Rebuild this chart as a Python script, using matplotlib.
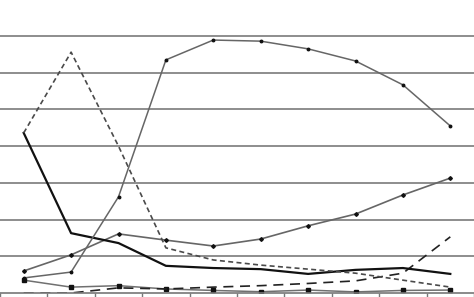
import numpy as np
import matplotlib
matplotlib.use("Agg")
import matplotlib.pyplot as plt

categories = list(range(10))

# values (grid step = 1)
gray_peak = [0.41, 0.57, 2.62, 6.35, 6.89, 6.86, 6.65, 6.32, 5.67, 4.55]
short_dash = [4.36, 6.56, 4.00, 1.23, 0.90, 0.76, 0.65, 0.54, 0.35, 0.16]
black_solid = [4.36, 1.63, 1.36, 0.74, 0.68, 0.65, 0.52, 0.63, 0.68, 0.52]
gray_rising = [0.60, 1.04, 1.61, 1.44, 1.28, 1.47, 1.83, 2.15, 2.67, 3.13]
long_dash = [0.00, 0.00, 0.14, 0.11, 0.16, 0.20, 0.26, 0.33, 0.54, 1.53]
gray_square = [0.35, 0.16, 0.20, 0.11, 0.07, 0.035, 0.08, 0.03, 0.07, 0.08]

fig = plt.figure(figsize=(4.74, 2.97), dpi=100)
ax = fig.add_axes([0, 4 / 297, 1, 293.7 / 297])

x = np.array(categories)

for yv in range(1, 8):
    ax.axhline(yv, color="#858585", lw=1.3, zorder=0)

ax.plot(x, gray_square, color="#707070", lw=1.1, marker="s", ms=2.2,
        mfc="#111111", mec="#111111", zorder=2)
ax.plot(x, long_dash, color="#222222", lw=1.2, dashes=(6, 4), zorder=2)
ax.plot(x, gray_rising, color="#666666", lw=1.2, marker="D", ms=1.9,
        mfc="#111111", mec="#111111", zorder=3)
ax.plot(x, black_solid, color="#111111", lw=1.6, zorder=3)
ax.plot(x, short_dash, color="#4a4a4a", lw=1.2, dashes=(3, 2), zorder=3)
ax.plot(x, gray_peak, color="#666666", lw=1.1, marker="o", ms=1.8,
        mfc="#111111", mec="#111111", zorder=4)

ax.set_xlim(-0.5, 9.5)
ax.set_ylim(0, 8)

for s in ["top", "right", "left"]:
    ax.spines[s].set_visible(False)
ax.spines["bottom"].set_color("#777777")
ax.spines["bottom"].set_linewidth(1.2)

ax.set_xticks(np.arange(-0.5, 10, 1))
ax.set_xticklabels([])
ax.tick_params(axis="x", direction="out", length=3.5, color="#777777", width=1)
ax.set_yticks([])

fig.savefig("out.png", dpi=100)
